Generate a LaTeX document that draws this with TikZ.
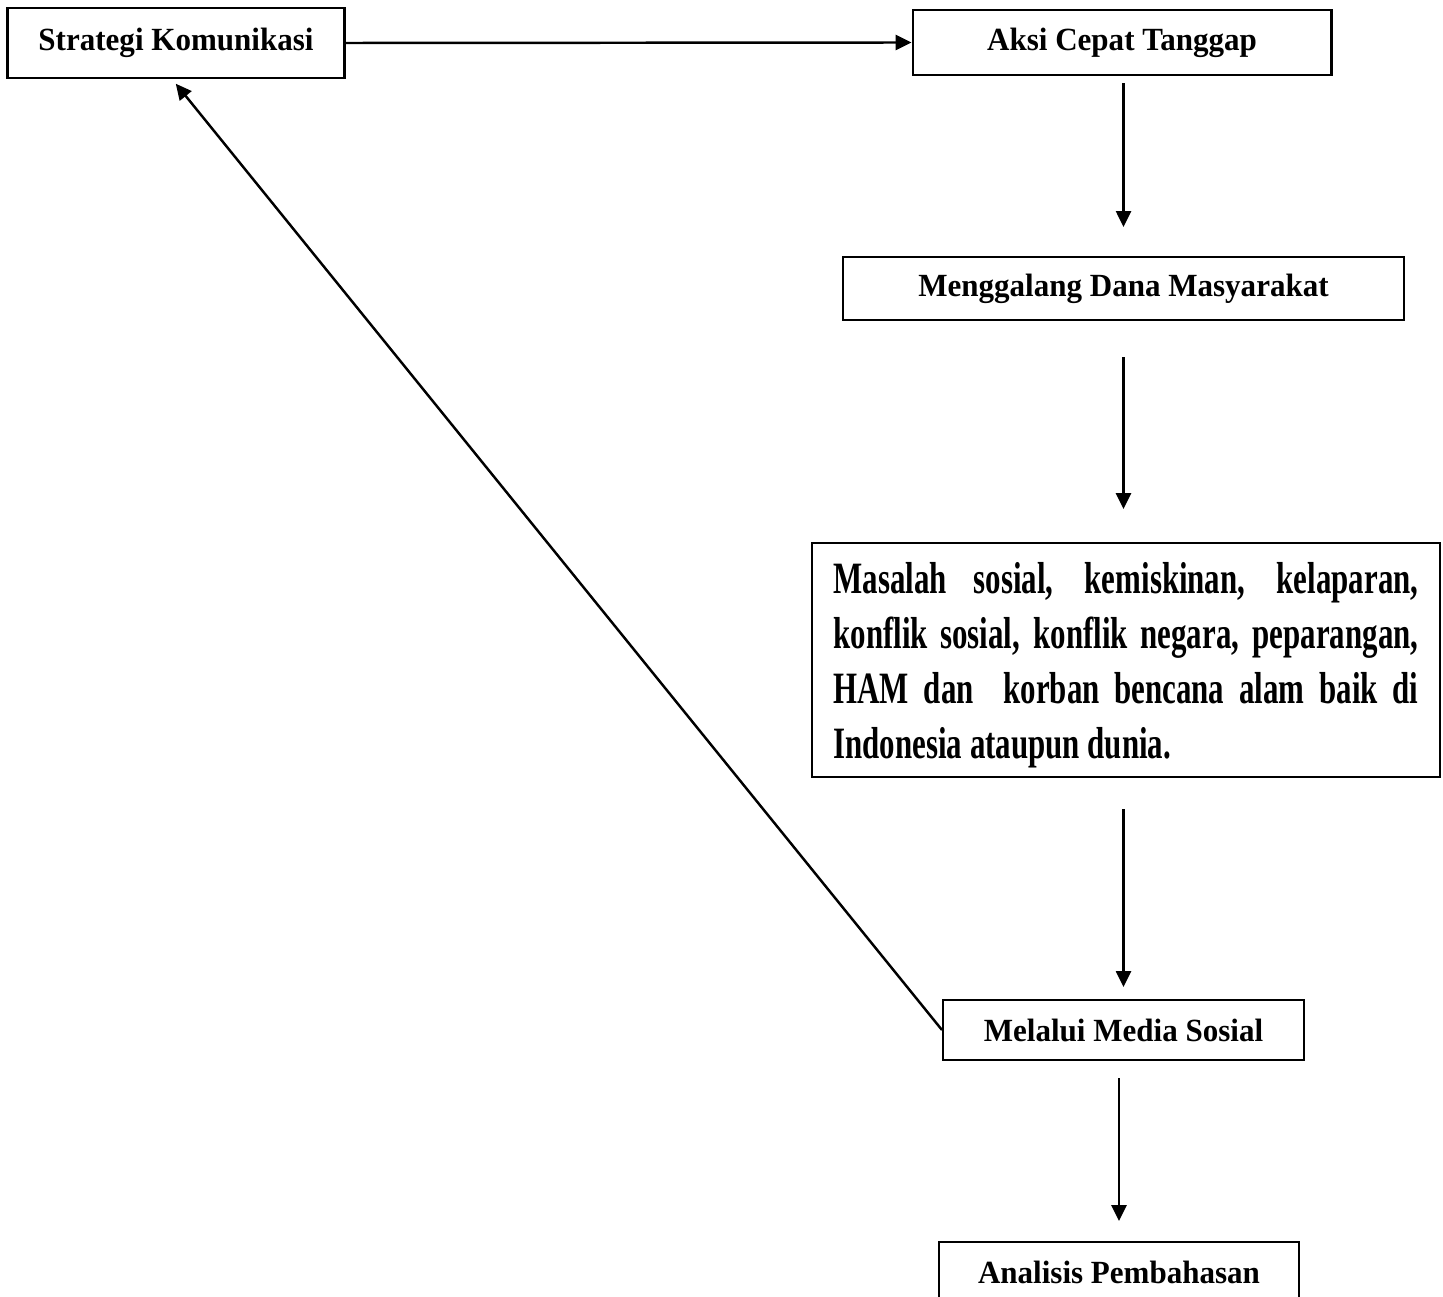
\documentclass[tikz,border=0pt]{standalone}
\usepackage{fontspec}
\setmainfont{Liberation Serif}[FakeStretch=0.96]
\newfontfamily\sempit{Liberation Serif}[FakeStretch=0.69]
\usepackage{tikz}
\usetikzlibrary{positioning}
\usetikzlibrary{arrows.meta}

\tikzset{
kotak/.style={draw, line width=1.2pt, inner sep=0pt, font=\fontsize{18.4}{22}\selectfont\bfseries},
panah/.style={line width=1.4pt, -{Triangle[length=9pt,width=8.5pt]}}
}

\begin{document}
\begin{tikzpicture}[x=0.02cm, y=-0.02cm]

\useasboundingbox (0,0) rectangle (1443,1297);

% kotak-kotak
\node[kotak, minimum width=6.74cm, minimum height=1.40cm] (strategi) at (176,43) {Strategi Komunikasi};

\node[kotak, minimum width=8.38cm, minimum height=1.30cm] (aksi) at (1122,42.5) {Aksi Cepat Tanggap};

\node[kotak, minimum width=11.22cm, minimum height=1.26cm] (dana) at (1123.5,288.5) {Menggalang Dana Masyarakat};

\node[kotak, minimum width=12.56cm, minimum height=4.68cm, text width=11.7cm, align=justify,
font=\sempit\fontsize{25.5}{31.3}\selectfont\bfseries] (masalah) at (1126,660)
{\rule{0pt}{24pt}Masalah sosial, kemiskinan, kelaparan,\linebreak konflik sosial, konflik negara, peparangan,\linebreak HAM dan~ korban bencana alam baik di\linebreak Indonesia ataupun dunia.};

\node[kotak, minimum width=7.22cm, minimum height=1.20cm] (media) at (1123.5,1030) {Melalui Media Sosial};

\node[kotak, minimum width=7.20cm, minimum height=1.20cm] (analisis) at (1119,1272) {Analisis Pembahasan};


% panah
\draw[panah] (strategi.east) -- (aksi.west);

\draw[panah, shorten <=0.14cm, shorten >=0.58cm] (aksi.south -| dana.north) -- (dana.north);

\draw[panah, shorten <=0.72cm, shorten >=0.66cm] (dana.south) -- (dana.south |- masalah.north);

\draw[panah, shorten <=0.62cm, shorten >=0.24cm] (masalah.south -| media.north) -- (media.north);

\draw[panah, shorten <=0.34cm, shorten >=0.40cm] (media.south -| analisis.north) -- (analisis.north);

\draw[panah, shorten >=0.12cm] (media.west) -- ([xshift=-0.08cm]strategi.south);

\end{tikzpicture}
\end{document}
